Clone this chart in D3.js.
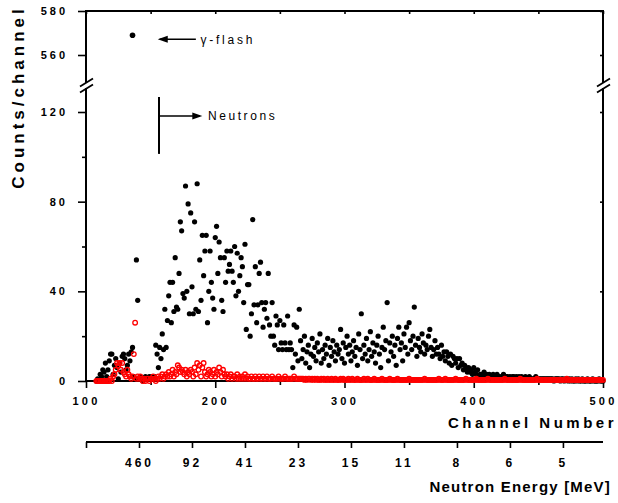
<!DOCTYPE html>
<html><head><meta charset="utf-8">
<script src="https://cdn.jsdelivr.net/npm/d3@7"></script>
<style>
html,body{margin:0;padding:0;background:#fff;}
text{font-family:"Liberation Sans",Arial,sans-serif;}
</style></head>
<body>
<svg id="chart" width="618" height="503"></svg>
<script>
// ---------------- DATA ----------------
const firstChannel = 108;
// black filled dots (counts per channel, channels 108..500)
const blackCounts = [
 0,1,0,3,2,5,4,8,2,5,
 9,12,12,3,7,10,6,1,8,4,
 11,12,10,5,7,12,9,13,15,2,
 1,54,36,1,2,1,0,1,2,1,
 1,2,1,2,1,2,16,12,6,15,
 10,21,14,32,15,27,38,44,26,44,
 31,55,33,32,48,71,67,39,37,87,
 40,79,30,75,42,30,71,32,88,31,
 54,36,65,47,58,65,26,40,58,44,
 37,32,64,69,48,62,55,36,31,55,
 44,58,49,52,58,49,44,60,38,57,
 40,47,55,51,35,61,23,43,43,20,
 30,72,34,51,26,34,48,53,35,24,
 32,35,28,48,25,20,35,20,16,29,
 25,14,27,17,14,25,17,14,29,14,
 17,14,6,25,12,24,9,32,
 18,10,14,20,8,13,16,6,12,19,
 11,15,9,17,13,21,8,14,10,16,
 12,19,7,15,11,18,13,9,16,12,
 14,23,10,17,8,15,20,12,16,9,
 13,18,11,15,7,21,14,30,10,16,
 12,19,9,14,22,11,17,13,8,16,
 20,12,6,15,24,14,18,35,9,17,
 13,20,11,16,7,19,24,14,17,9,
 21,15,24,12,26,18,14,20,33,16,
 11,19,15,13,21,17,12,16,14,20,
 23,15,11,14,18,12,15,12,10,16,
 11,13,9,13,11,8,12,7,11,10,
 8,10,6,10,7,8,5,7,6,4,
 6,4,5,3,6,4,3,5,2,3,
 3,2,4,2,3,2,3,2,1,3,
 2,1,3,2,2,1,2,3,1,2,
 2,1,2,1,2,2,1,2,1,2,
 1,2,1,1,2,1,1,2,1,1,
 1,1,2,1,1,1,1,1,1,1,
 1,1,1,1,1,1,0,1,1,1,
 1,0,1,1,0,1,1,0,1,0,
 1,0,0,1,0,1,0,0,1,0,
 0,0,1,0,0,0,1,0,0,0,
 0,1,0,0,0
];
// red open circles (counts per channel, channels 108..500)
const redCounts = [
 0,0,0,0,0,0,0,0,0,0,
 0,1,0,2,3,5,8,7,8,5,
 8,4,3,2,5,3,2,1,2,12,
 26,1,2,1,2,1,0,1,0,1,
 1,0,1,1,2,1,0,1,2,1,
 2,3,1,2,3,2,4,2,3,5,
 2,4,3,7,6,4,5,4,3,5,
 2,4,3,5,4,2,6,3,8,5,
 7,2,6,8,4,2,3,5,4,2,
 3,5,2,4,3,6,4,2,5,3,
 2,3,1,2,3,1,2,2,1,3,
 1,2,1,2,1,3,1,2,1,1,
 2,1,1,2,1,1,2,1,1,2,
 1,1,2,1,1,1,2,1,1,1,
 1,2,1,1,1,1,2,1,1,1,
 1,1,1,2,1,1,1,1,1,1,
 1,0.5,1,0.5,1,1,0.5,1,0.5,1,
 0.5,1,0.5,0.5,1,0.5,1,0.5,0.5,1,
 0.5,0.5,1,0.5,0.5,1,0.5,0.5,0.5,1,
 0.5,1,0.5,0.5,0.5,1,0.5,0.5,1,0.5,
 0.5,0.5,1,0.5,0.5,0.5,0.5,1,0.5,0.5,
 1,0.5,0.5,0.5,0.5,1,0.5,0.5,0.5,0.5,
 0.5,1,0.5,0.5,0.5,0.5,0.5,1,0.5,0.5,
 0.5,0.5,0.5,1,0.5,0.5,0.5,0.5,0.5,0.5,
 0.5,0.5,1,0.5,0.5,0.5,0.5,0.5,0.5,0.5,
 0.5,0.5,0.5,0.5,1,0.5,0.5,0.5,0.5,0.5,
 0.5,0.5,0.5,0.5,0.5,1,0.5,0.5,0.5,0.5,
 1,0.5,0.5,0.5,0.5,0.5,0.5,0.5,1,0.5,
 0.5,0.5,0.5,0.5,0.5,0.5,1,0.5,0.5,0.5,
 0.5,0.5,0.5,0.5,1,0.5,0.5,0.5,0.5,0.5,
 0.5,0.5,0.5,1,0.5,0.5,0.5,0.5,0.5,0.5,
 0.5,0.5,0.5,0.5,0.5,0.5,1,0.5,0.5,0.5,
 0.5,0.5,0.5,0.5,0.5,0.5,0.5,0.5,1,0.5,
 0.5,0.5,0.5,0.5,0.5,0.5,0.5,0.5,0.5,0.5,
 0.5,1,0.5,0.5,0.5,0.5,0.5,0.5,0.5,0.5,
 0.5,0.5,0.5,0.5,0.5,0.5,0.5,0.5,0.5,0.5,
 0.5,0.5,0.5,0.5,1,0.5,0.5,0.5,0.5,0.5,
 0.5,0.5,0.5,0.5,0.5,0.5,0.5,0.5,0.5,0.5,
 0.5,0.5,0.5,0.5,0.5,0.5,0.5,0.5,0.5,0.5,
 0.5,0.5,0.5
];
const gammaFlash = [{channel:136, count:569}];

const channelTicks = [100,200,300,400,500];
const channelMinorTicks = [150,250,350,450];
const lowerCountTicks = [0,40,80,120];
const lowerCountMinor = [20,60,100];
const upperCountTicks = [560,580];
const energyLabels = ["460","92","41","23","15","11","8","6","5"];
const energyChannels = [141,182,223,264,305,346,387,428,469];

// ---------------- SCALES ----------------
const svg = d3.select("#chart");
const x = d3.scaleLinear().domain([100,500]).range([86,603]);
const yLow = d3.scaleLinear().domain([0,120]).range([381,112]);
const yHigh = d3.scaleLinear().domain([560,580]).range([55,11]);
const y = v => v > 300 ? yHigh(v) : yLow(v);
const pLeft = 86, pRight = 603, pTop = 11, pBottom = 381, breakY = 85.5;

const black = blackCounts.map((c,i)=>({channel:firstChannel+i, count:c}));
const red = redCounts.map((c,i)=>({channel:firstChannel+i, count:c}));

// ---------------- AXES ----------------
function styleAxis(g, fs, ls){
  g.select(".domain").remove();
  g.selectAll(".tick line").attr("stroke","#000").attr("stroke-width",1.6);
  g.selectAll(".tick text").attr("fill","#000").style("font-size",fs+"px")
   .style("font-weight","bold").style("letter-spacing",ls+"px")
   .style("font-family","'Liberation Sans',Arial,sans-serif");
}
// left axis
svg.append("g").attr("transform",`translate(${pLeft},0)`)
  .call(d3.axisLeft(yLow).tickValues(lowerCountTicks).tickSize(8).tickPadding(10))
  .call(g=>styleAxis(g,11,3));
svg.append("g").attr("transform",`translate(${pLeft},0)`)
  .call(d3.axisLeft(yLow).tickValues(lowerCountMinor).tickSize(4).tickFormat(""))
  .call(g=>styleAxis(g,11,3));
svg.append("g").attr("transform",`translate(${pLeft},0)`)
  .call(d3.axisLeft(yHigh).tickValues(upperCountTicks).tickSize(8).tickPadding(10))
  .call(g=>styleAxis(g,11,3));
// right axis (inward ticks)
svg.append("g").attr("transform",`translate(${pRight},0)`)
  .call(d3.axisRight(yLow).tickValues(lowerCountTicks).tickSize(-3).tickFormat(""))
  .call(g=>styleAxis(g,11,3));
svg.append("g").attr("transform",`translate(${pRight},0)`)
  .call(d3.axisRight(yHigh).tickValues(upperCountTicks).tickSize(-3).tickFormat(""))
  .call(g=>styleAxis(g,11,3));
// bottom channel axis
svg.append("g").attr("transform",`translate(0,${pBottom})`)
  .call(d3.axisBottom(x).tickValues(channelTicks).tickSize(7).tickPadding(9))
  .call(g=>styleAxis(g,11,3.2));
svg.append("g").attr("transform",`translate(0,${pBottom})`)
  .call(d3.axisBottom(x).tickValues(channelMinorTicks).tickSize(4).tickFormat(""))
  .call(g=>styleAxis(g,11,3));
// top axis inward ticks
svg.append("g").attr("transform",`translate(0,${pTop})`)
  .call(d3.axisTop(x).tickValues(channelTicks.concat(channelMinorTicks)).tickSize(-3).tickFormat(""))
  .call(g=>styleAxis(g,11,3));

// energy axis
const eY = 442;
svg.append("g").attr("transform",`translate(0,${eY})`)
  .call(d3.axisBottom(x).tickValues([100].concat(energyChannels)).tickSize(6).tickPadding(10))
  .call(g=>g.selectAll(".tick text").text((d,i)=> i===0 ? "" : energyLabels[i-1]))
  .call(g=>styleAxis(g,12,3));
svg.append("line").attr("x1",x(100)).attr("x2",x(500)).attr("y1",eY).attr("y2",eY)
  .attr("stroke","#000").attr("stroke-width",2);

// frame
const frame = svg.append("g").attr("stroke","#000").attr("stroke-width",2).attr("fill","none");
frame.append("line").attr("x1",pLeft).attr("x2",pRight).attr("y1",pTop).attr("y2",pTop);
frame.append("line").attr("x1",pLeft).attr("x2",pRight).attr("y1",pBottom).attr("y2",pBottom);
frame.append("line").attr("x1",pLeft).attr("x2",pLeft).attr("y1",pTop-1).attr("y2",pBottom+1);
frame.append("line").attr("x1",pRight).attr("x2",pRight).attr("y1",pTop-1).attr("y2",pBottom+1);

// axis breaks
[pLeft, pRight].forEach(ax=>{
  svg.append("rect").attr("x",ax-3).attr("y",breakY-2.5).attr("width",6).attr("height",5).attr("fill","#fff");
  [breakY-3, breakY+3].forEach(cy=>{
    svg.append("line").attr("x1",ax-6).attr("y1",cy+4).attr("x2",ax+7).attr("y2",cy-4)
      .attr("stroke","#000").attr("stroke-width",1.8);
  });
});

// ---------------- DATA MARKS ----------------
svg.append("g").selectAll("circle").data(black).join("circle")
  .attr("cx",d=>x(d.channel)).attr("cy",d=>y(d.count)).attr("r",2.6).attr("fill","#000");
svg.append("g").selectAll("circle").data(gammaFlash).join("circle")
  .attr("cx",d=>x(d.channel)).attr("cy",d=>y(d.count)).attr("r",2.8).attr("fill","#000");
svg.append("g").selectAll("circle").data(red).join("circle")
  .attr("cx",d=>x(d.channel)).attr("cy",d=>y(d.count)).attr("r",2.3)
  .attr("fill","none").attr("stroke","#ff0000").attr("stroke-width",1.3);

// ---------------- ANNOTATIONS ----------------
const gY = yHigh(567.2);
svg.append("line").attr("x1",x(185)).attr("x2",x(157)).attr("y1",gY).attr("y2",gY)
  .attr("stroke","#000").attr("stroke-width",1.5);
svg.append("path").attr("d",`M${x(155.5)},${gY} l10,-3.5 l0,7 z`).attr("fill","#000");
svg.append("text").attr("x",x(188.5)).attr("y",gY+4.5).text("γ-flash")
  .style("font-size","12px").style("letter-spacing","2.8px").attr("fill","#000");
svg.append("line").attr("x1",x(156.5)).attr("x2",x(156.5)).attr("y1",yLow(126.7)).attr("y2",yLow(101.3))
  .attr("stroke","#000").attr("stroke-width",2);
const nY = yLow(118.2);
svg.append("line").attr("x1",x(156.5)).attr("x2",x(188)).attr("y1",nY).attr("y2",nY)
  .attr("stroke","#000").attr("stroke-width",1.5);
svg.append("path").attr("d",`M${x(190)},${nY} l-10,-3.5 l0,7 z`).attr("fill","#000");
svg.append("text").attr("x",x(194.3)).attr("y",nY+4).text("Neutrons")
  .style("font-size","12px").style("letter-spacing","2.6px").attr("fill","#000");

// ---------------- TITLES ----------------
svg.append("text").attr("transform","translate(24,97) rotate(-90)").attr("text-anchor","middle")
  .text("Counts/channel").style("font-size","17px").style("font-weight","bold").style("letter-spacing","4px");
svg.append("text").attr("x",617).attr("y",428).attr("text-anchor","end")
  .text("Channel Number").style("font-size","15px").style("font-weight","bold").style("letter-spacing","3.5px");
svg.append("text").attr("x",611).attr("y",492).attr("text-anchor","end")
  .text("Neutron Energy [MeV]").style("font-size","15px").style("font-weight","bold").style("letter-spacing","1.2px");
</script>
</body></html>
